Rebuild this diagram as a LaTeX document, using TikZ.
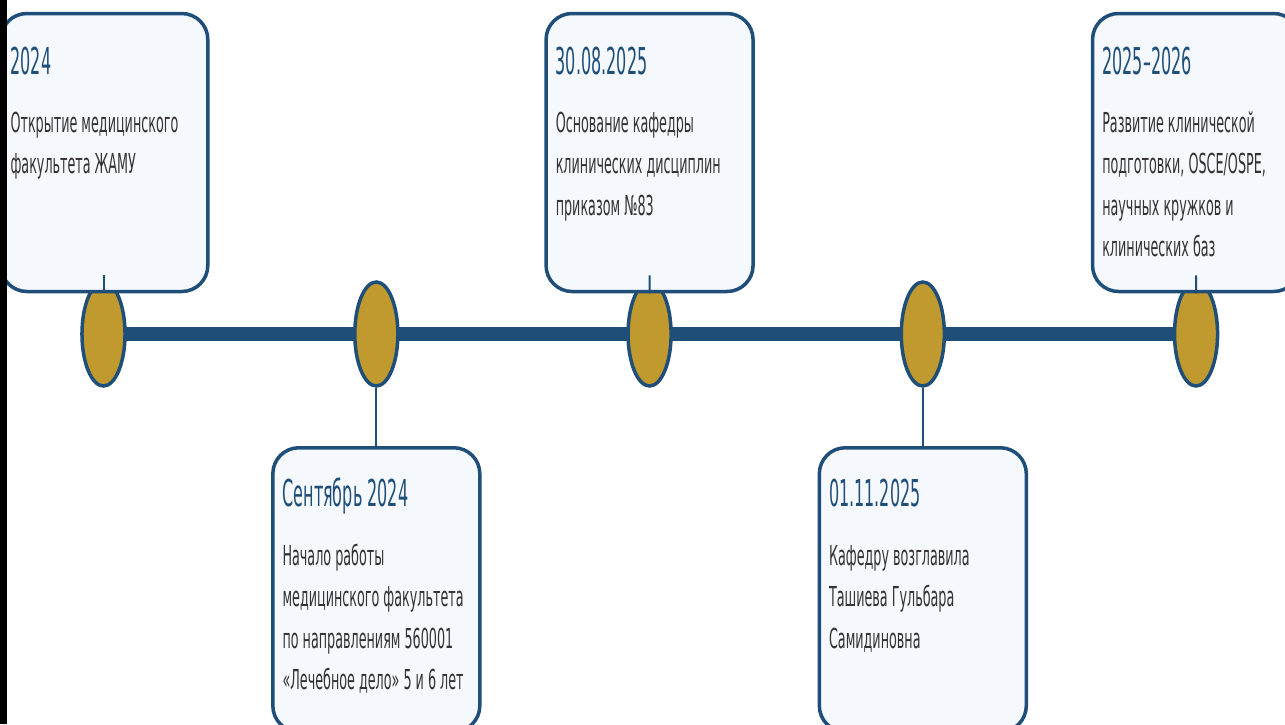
\documentclass[tikz,border=0pt]{standalone}
\usepackage{fontspec}
\setmainfont{DejaVu Sans}
\newfontfamily\tlbodyfont{DejaVu Sans}[FakeStretch=1.12]
\newfontfamily\tltitlefont{DejaVu Sans}[FakeStretch=1.045]
\usetikzlibrary{calc,backgrounds}
\definecolor{tlblue}{HTML}{1F4E79}
\definecolor{tlgold}{HTML}{C09A2F}
\definecolor{tlfill}{HTML}{F5F9FE}
\definecolor{tltext}{HTML}{333333}
\begin{document}
\begin{tikzpicture}[x=1pt,y=-1pt]
\useasboundingbox (0,0) rectangle (1285,724);
\clip (0,0) rectangle (1285,724);
\begin{scope}[xscale=0.414, transform shape,
  dot/.style={circle, draw=tlblue, fill=tlgold, line width=3.5pt, minimum size=104pt, inner sep=0pt},
  card/.style={rectangle, draw=tlblue, fill=tlfill, line width=3.5pt, rounded corners=26pt, minimum width=500pt, minimum height=278pt, inner sep=0pt},
  cardlow/.style={card, minimum height=284pt},
  ttl/.style={anchor=base west, text=tlblue, font=\tltitlefont\fontsize{37}{44}\selectfont, inner sep=0pt},
  txt/.style={anchor=north west, text=tltext, font=\tlbodyfont\fontsize{27.5}{41.5}\selectfont, align=left, inner sep=0pt},
  link/.style={draw=tlblue, line width=2pt}]
% markers
\node[dot] (e1) at (250,334) {};
\node[dot] (e2) at (909,334) {};
\node[dot] (e3) at (1569,334) {};
\node[dot] (e4) at (2229,334) {};
\node[dot] (e5) at (2889,334) {};
\begin{pgfonlayer}{background}
\draw[tlblue, line width=14pt] (e1.center) -- (e5.center);
\end{pgfonlayer}
% cards
\node[card] (b1) at (252,152.5) {};
\node[card] (b3) at (1569,152.5) {};
\node[card] (b5) at (2889,152.5) {};
\node[cardlow] (b2) at (909,589.75) {};
\node[cardlow] (b4) at (2229,589.75) {};
% texts
\node[ttl] (t1) at ($(b1.north west)+(25,62.5)$) {2024};
\node[txt] (d1) at ($(b1.north west)+(25,90.5)$) {\rule{0pt}{30pt}Открытие медицинского\\факультета ЖАМУ};
\node[ttl] (t3) at ($(b3.north west)+(25,62.5)$) {30.08.2025};
\node[txt] (d3) at ($(b3.north west)+(25,90.5)$) {\rule{0pt}{30pt}Основание кафедры\\клинических дисциплин\\приказом №83};
\node[ttl] (t5) at ($(b5.north west)+(25,62.5)$) {2025–2026};
\node[txt] (d5) at ($(b5.north west)+(25,90.5)$) {\rule{0pt}{30pt}Развитие клинической\\подготовки, OSCE/OSPE,\\научных кружков и\\клинических баз};
\node[ttl] (t2) at ($(b2.north west)+(25,60)$) {Сентябрь 2024};
\node[txt] (d2) at ($(b2.north west)+(25,89)$) {\rule{0pt}{30pt}Начало работы\\медицинского факультета\\по направлениям 560001\\«Лечебное дело» 5 и 6 лет};
\node[ttl] (t4) at ($(b4.north west)+(25,60)$) {01.11.2025};
\node[txt] (d4) at ($(b4.north west)+(25,89)$) {\rule{0pt}{30pt}Кафедру возглавила\\Ташиева Гульбара\\Самидиновна};
% connectors
\coordinate (s1) at ($(b1.south)+(-2,-18)$);
\coordinate (s3) at ($(b3.south)+(0,-18)$);
\coordinate (s5) at ($(b5.south)+(0,-18)$);
\draw[link] (s1) -- (s1 |- b1.south);
\draw[link] (s3) -- (b3.south);
\draw[link] (s5) -- (b5.south);
\draw[link] (e2.south) -- (b2.north);
\draw[link] (e4.south) -- (b4.north);
\end{scope}
\fill[black] (0,0) rectangle (7,724);
\end{tikzpicture}
\end{document}
